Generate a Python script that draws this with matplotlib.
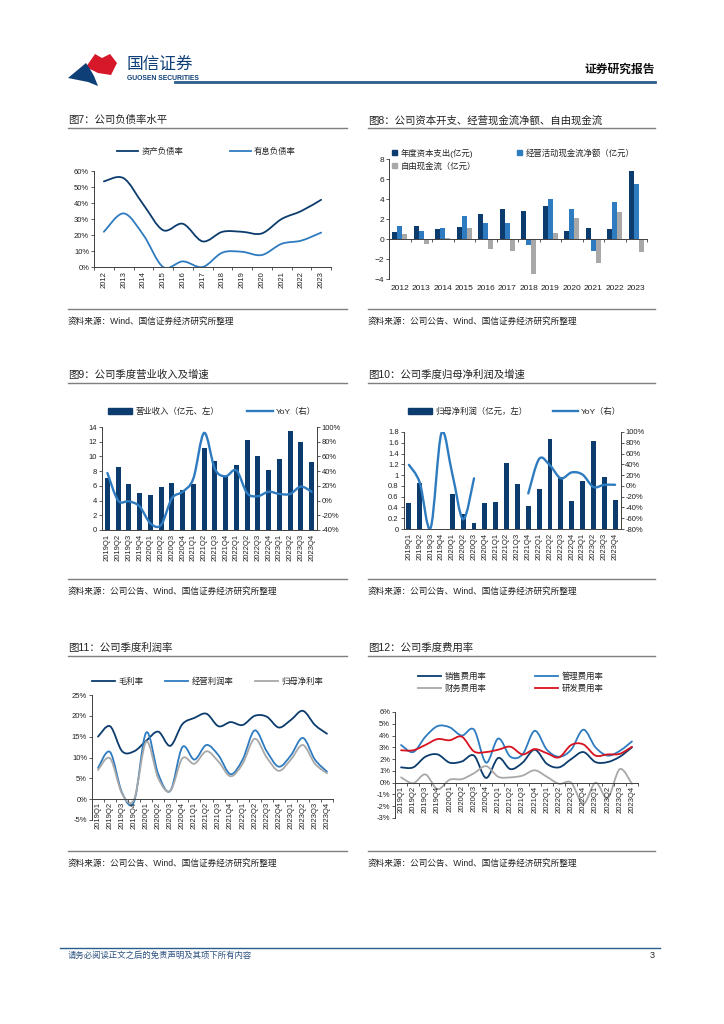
import numpy as np
import matplotlib
matplotlib.use('Agg')
import matplotlib.pyplot as plt
from matplotlib.path import Path
from matplotlib.patches import PathPatch, Polygon, Patch
from matplotlib.lines import Line2D
import matplotlib.ticker as mticker

plt.rcParams['font.family'] = ['Liberation Sans', 'Noto Sans CJK SC', 'DejaVu Sans']

# ---------------- data ----------------
years = ['2012', '2013', '2014', '2015', '2016', '2017', '2018', '2019', '2020', '2021', '2022', '2023']
asset_liab = [53.5, 55.5, 39, 23, 27, 16, 22, 22, 21, 30, 35, 42]
interest_liab = [22, 33.5, 20, 0, 3.5, 0, 9, 9.5, 7.5, 14.5, 16.5, 21.5]

capex = [0.75, 1.35, 1.0, 1.2, 2.5, 3.0, 2.85, 3.35, 0.85, 1.1, 1.0, 6.8]
op_cf = [1.3, 0.8, 1.1, 2.3, 1.6, 1.65, -0.6, 4.0, 3.05, -1.15, 3.7, 5.5]
free_cf = [0.55, -0.5, 0.1, 1.1, -0.95, -1.2, -3.45, 0.6, 2.1, -2.35, 2.75, -1.3]

quarters = ['2019Q1', '2019Q2', '2019Q3', '2019Q4', '2020Q1', '2020Q2', '2020Q3', '2020Q4',
            '2021Q1', '2021Q2', '2021Q3', '2021Q4', '2022Q1', '2022Q2', '2022Q3', '2022Q4',
            '2023Q1', '2023Q2', '2023Q3', '2023Q4']
revenue = [7.1, 8.5, 6.3, 5.0, 4.8, 5.9, 6.4, 5.5, 6.3, 11.2, 9.4, 7.3, 8.9, 12.2, 10.0, 8.2, 9.7, 13.4, 11.9, 9.2]
revenue_yoy = [37.5, 0, -1, -8, -31, -33, 3, 12, 30, 92, 43, 33, 41, 10, 6, 12, 9, 9, 19, 12]

net_profit = [0.48, 0.85, np.nan, np.nan, 0.65, 0.27, 0.11, 0.48, 0.50, 1.22, 0.84, 0.42,
              0.74, 1.67, 0.97, 0.52, 0.90, 1.63, 0.97, 0.54]
net_profit_yoy = [39, 6, -78, 98, 22, -62, 14, np.nan, np.nan, np.nan, np.nan, -14,
                  50, 38, 14, 25, 21, -2, 2, 2]

gross_margin = [15.0, 17.5, 11.5, 11.5, 14.0, 16.2, 12.8, 18.0, 19.5, 20.5, 17.5, 18.5,
                17.8, 20.0, 19.8, 17.2, 19.0, 21.2, 17.8, 15.7]
op_margin = [7.5, 11.3, 1.5, -0.5, 16.0, 6.0, 2.0, 12.5, 9.5, 13.0, 10.5, 6.0,
             9.5, 16.5, 11.5, 7.8, 10.5, 14.7, 9.5, 6.6]
net_margin = [7.0, 9.8, 1.3, 0.0, 13.8, 5.0, 2.0, 9.8, 8.5, 11.5, 9.0, 5.5,
              8.5, 14.5, 10.0, 6.8, 9.5, 13.0, 8.5, 6.2]

sell_rate = [1.3, 1.3, 2.2, 2.4, 1.7, 1.8, 2.3, 0.4, 2.1, 1.15, 1.7, 2.8,
             1.6, 1.3, 2.0, 2.6, 1.75, 1.75, 2.2, 3.0]
admin_rate = [3.2, 2.6, 3.9, 4.8, 4.7, 4.0, 4.5, 1.7, 3.75, 2.2, 2.4, 4.4,
              2.8, 2.2, 2.8, 4.5, 3.0, 2.3, 2.7, 3.5]
fin_rate = [0.45, -0.05, 0.7, -0.55, 0.25, 0.3, 0.8, 1.4, 0.5, 0.45, 0.6, 1.05,
            0.5, -0.1, 0.0, -1.8, 0.0, -1.3, 1.15, -0.1]
rd_rate = [2.75, 2.75, 3.2, 3.7, 3.6, 3.9, 2.65, 2.6, 2.8, 3.05, 2.4, 2.85,
           2.5, 2.15, 3.2, 3.25, 2.3, 2.4, 2.45, 3.05]

# ---------------- styles ----------------
NAVY = '#0B3C6D'
BLUE = '#2E7BC0'
GRAY = '#A8A8A8'
RED = '#D8121F'
AX = '#404040'
TXT = '#222222'

W, H = 724, 1024
fig = plt.figure(figsize=(7.24, 10.24), dpi=100)


def fx(x):
    return x / W


def fy(y):
    return 1 - y / H


def add_axes(x0, y0, x1, y1):
    return fig.add_axes([fx(x0), fy(y1), (x1 - x0) / W, (y1 - y0) / H])


def hline(x0, x1, y, color='#808080', lw=1.0):
    fig.add_artist(Line2D([fx(x0), fx(x1)], [fy(y), fy(y)], color=color, lw=lw,
                          transform=fig.transFigure))


def smooth_path(xs, ys):
    n = len(xs)
    verts = [(xs[0], ys[0])]
    codes = [Path.MOVETO]
    for i in range(n - 1):
        p0 = (xs[i - 1], ys[i - 1]) if i > 0 else (xs[i], ys[i])
        p1 = (xs[i], ys[i])
        p2 = (xs[i + 1], ys[i + 1])
        p3 = (xs[i + 2], ys[i + 2]) if i + 2 < n else p2
        c1 = (p1[0] + (p2[0] - p0[0]) / 6, p1[1] + (p2[1] - p0[1]) / 6)
        c2 = (p2[0] - (p3[0] - p1[0]) / 6, p2[1] - (p3[1] - p1[1]) / 6)
        verts += [c1, c2, p2]
        codes += [Path.CURVE4] * 3
    return Path(verts, codes)


def smooth_line(ax, x, y, color, lw=1.2):
    x = np.asarray(x, float)
    y = np.asarray(y, float)
    ok = ~np.isnan(y)
    seg = []
    segs = []
    for i in range(len(y)):
        if ok[i]:
            seg.append(i)
        else:
            if seg:
                segs.append(seg)
            seg = []
    if seg:
        segs.append(seg)
    for s in segs:
        if len(s) < 2:
            continue
        p = smooth_path(x[s], y[s])
        ax.add_patch(PathPatch(p, fill=False, edgecolor=color, lw=lw,
                               capstyle='round', joinstyle='round'))
    return Line2D([], [], color=color, lw=lw)


def legend_item(handle, label, x, y, hl, hh=0.7, fs=6, htp=0.4):
    fig.legend([handle], [label], loc='center left', bbox_to_anchor=(fx(x), fy(y)),
               bbox_transform=fig.transFigure, frameon=False, fontsize=fs,
               handlelength=hl, handleheight=hh, handletextpad=htp,
               borderpad=0, borderaxespad=0, labelcolor=TXT)


def style_ax(ax, right=False):
    for s in ['top', 'right']:
        ax.spines[s].set_visible(False)
    for s in ['left', 'bottom']:
        ax.spines[s].set_color(AX)
        ax.spines[s].set_linewidth(0.7)
    ax.tick_params(labelsize=5.5, length=2, width=0.6, color=AX, labelcolor=TXT, pad=1.5)
    ax.patch.set_alpha(0)


pct = mticker.FuncFormatter(lambda v, p: f'{v:.0f}%')


def title(x, y, text, x1):
    fig.text(fx(x), fy(y), text, fontsize=7.5, color=TXT, va='center', ha='left')
    hline(x, x1, y + 8, '#7F7F7F', 1.0)


def source(x, y, text, x1):
    hline(x, x1, y - 12, '#7F7F7F', 1.0)
    fig.text(fx(x), fy(y), text, fontsize=6.2, color=TXT, va='center', ha='left')


# ---------------- header ----------------
def px_poly(pts, color):
    fig.add_artist(Polygon([(fx(a), fy(b)) for a, b in pts], closed=True, facecolor=color,
                           edgecolor='none', transform=fig.transFigure))


px_poly([(86, 67), (95, 54), (102, 58), (110, 54), (117, 63), (111, 75), (98, 73)], '#D7182A')
px_poly([(68, 78), (86, 63), (90, 69), (94, 76), (98, 86), (88, 82), (78, 80)], '#0E3F77')
fig.text(fx(127), fy(64), '国信证券', fontsize=12, color='#0E3F77', va='center', ha='left')
fig.text(fx(127), fy(78), 'GUOSEN SECURITIES', fontsize=4.9, color='#0E3F77', va='center',
         ha='left', fontweight='bold')
fig.text(fx(655), fy(70), '证券研究报告', fontsize=8.5, color='#111111', va='center', ha='right',
         fontweight='bold')
hline(175, 655, 82, '#2B5C8C', 2.0)

# ---------------- titles / sources ----------------
title(68, 120, '图7：公司负债率水平', 347)
title(368, 120, '图8：公司资本开支、经营现金流净额、自由现金流', 655)
title(68, 375, '图9：公司季度营业收入及增速', 347)
title(368, 375, '图10：公司季度归母净利润及增速', 655)
title(68, 648, '图11：公司季度利润率', 347)
title(368, 648, '图12：公司季度费用率', 655)

source(68, 321, '资料来源：Wind、国信证券经济研究所整理', 347)
source(368, 321, '资料来源：公司公告、Wind、国信证券经济研究所整理', 655)
source(68, 591, '资料来源：公司公告、Wind、国信证券经济研究所整理', 347)
source(368, 591, '资料来源：公司公告、Wind、国信证券经济研究所整理', 655)
source(68, 863, '资料来源：公司公告、Wind、国信证券经济研究所整理', 347)
source(368, 863, '资料来源：公司公告、Wind、国信证券经济研究所整理', 655)

# footer
hline(60, 660, 948, '#2B5C8C', 1.0)
fig.text(fx(68), fy(956), '请务必阅读正文之后的免责声明及其项下所有内容', fontsize=6, color='#2B4F7E',
         va='center', ha='left')
fig.text(fx(655), fy(956), '3', fontsize=6.5, color=TXT, va='center', ha='right')

# ---------------- Fig 7 ----------------
ax7 = add_axes(94, 171, 331, 267)
style_ax(ax7)
xy = np.arange(len(years))
h1 = smooth_line(ax7, xy, asset_liab, NAVY, 1.3)
h2 = smooth_line(ax7, xy, interest_liab, BLUE, 1.3)
ax7.set_xlim(-0.5, len(years) - 0.5)
ax7.set_ylim(0, 60)
ax7.set_yticks(np.arange(0, 61, 10))
ax7.yaxis.set_major_formatter(pct)
ax7.set_xticks(xy, years, rotation=90)
ax7.tick_params(axis='x', length=0, pad=3)
ax7.set_xticks(np.arange(-0.5, len(years), 1), minor=True)
ax7.tick_params(axis='x', which='minor', length=2, width=0.6, color=AX)
legend_item(h1, '资产负债率', 117, 152, 2.5)
legend_item(h2, '有息负债率', 230, 152, 2.5)

# ---------------- Fig 8 ----------------
ax8 = add_axes(389, 159, 647, 279)
style_ax(ax8)
w = 0.23
ax8.bar(xy - w, capex, w, color=NAVY)
ax8.bar(xy, op_cf, w, color=BLUE)
ax8.bar(xy + w, free_cf, w, color=GRAY)
ax8.set_xlim(-0.5, len(years) - 0.5)
ax8.set_ylim(-4, 8)
ax8.set_yticks(np.arange(-4, 9, 2))
ax8.spines['bottom'].set_position(('data', 0))
ax8.set_xticks(xy, years)
ax8.tick_params(axis='x', length=0, pad=33, labelsize=6)
ax8.tick_params(axis='y', labelsize=6)
ax8.set_xticks(np.arange(-0.5, len(years), 1), minor=True)
ax8.tick_params(axis='x', which='minor', length=2, width=0.6, color=AX)
sq = dict(hl=0.65, hh=0.65, htp=0.35)
legend_item(Patch(color=NAVY), '年度资本支出(亿元)', 392, 153, **sq)
legend_item(Patch(color=BLUE), '经营活动现金流净额（亿元）', 517, 153, **sq)
legend_item(Patch(color=GRAY), '自由现金流（亿元）', 392, 166, **sq)

# ---------------- Fig 9 ----------------
xq = np.arange(len(quarters))
ax9 = add_axes(102, 427, 317, 530)
style_ax(ax9)
ax9.bar(xq, revenue, 0.45, color=NAVY)
ax9.set_xlim(-0.5, len(quarters) - 0.5)
ax9.set_ylim(0, 14)
ax9.set_yticks(np.arange(0, 15, 2))
ax9.set_xticks(xq, quarters, rotation=90)
ax9.tick_params(axis='x', length=0, pad=3)
ax9r = ax9.twinx()
style_ax(ax9r)
ax9r.spines['right'].set_visible(True)
ax9r.spines['right'].set_color(AX)
ax9r.spines['right'].set_linewidth(0.7)
ax9r.spines['left'].set_visible(False)
ax9r.spines['bottom'].set_visible(False)
hy = smooth_line(ax9r, xq, revenue_yoy, BLUE, 1.7)
ax9r.set_ylim(-40, 100)
ax9r.set_yticks(np.arange(-40, 101, 20))
ax9r.yaxis.set_major_formatter(pct)
legend_item(Patch(color=NAVY), '营业收入（亿元、左）', 108, 412, 2.9, hh=0.75)
legend_item(hy, 'YoY（右）', 247, 412, 3.1)

# ---------------- Fig 10 ----------------
ax10 = add_axes(403.5, 432, 620.5, 529)
style_ax(ax10)
ax10.bar(xq, net_profit, 0.45, color=NAVY)
ax10.set_xlim(-0.5, len(quarters) - 0.5)
ax10.set_ylim(0, 1.8)
ax10.set_yticks(np.round(np.arange(0, 1.81, 0.2), 1))
ax10.yaxis.set_major_formatter(mticker.FuncFormatter(lambda v, p: f'{v:g}'))
ax10.set_xticks(xq, quarters, rotation=90)
ax10.tick_params(axis='x', length=0, pad=3)
ax10r = ax10.twinx()
style_ax(ax10r)
ax10r.spines['right'].set_visible(True)
ax10r.spines['right'].set_color(AX)
ax10r.spines['right'].set_linewidth(0.7)
ax10r.spines['left'].set_visible(False)
ax10r.spines['bottom'].set_visible(False)
hy2 = smooth_line(ax10r, xq, net_profit_yoy, BLUE, 1.7)
ax10r.set_ylim(-80, 100)
ax10r.set_yticks(np.arange(-80, 101, 20))
ax10r.yaxis.set_major_formatter(pct)
legend_item(Patch(color=NAVY), '归母净利润（亿元，左）', 408, 412, 2.9, hh=0.75)
legend_item(hy2, 'YoY（右）', 553, 412, 3.0)

# ---------------- Fig 11 ----------------
ax11 = add_axes(92, 695, 333, 820)
style_ax(ax11)
g1 = smooth_line(ax11, xq, gross_margin, NAVY, 1.3)
g2 = smooth_line(ax11, xq, op_margin, BLUE, 1.3)
g3 = smooth_line(ax11, xq, net_margin, GRAY, 1.3)
ax11.set_xlim(-0.5, len(quarters) - 0.5)
ax11.set_ylim(-5, 25)
ax11.set_yticks(np.arange(-5, 26, 5))
ax11.yaxis.set_major_formatter(pct)
ax11.spines['bottom'].set_position(('data', 0))
ax11.set_xticks(xq, quarters, rotation=90)
ax11.tick_params(axis='x', length=0, pad=2)
ax11.set_xticks(np.arange(-0.5, len(quarters), 1), minor=True)
ax11.tick_params(axis='x', which='minor', length=2, width=0.6, color=AX)
legend_item(g1, '毛利率', 92, 682, 2.8)
legend_item(g2, '经营利润率', 165, 682, 2.8)
legend_item(g3, '归母净利率', 255, 682, 2.8)

# ---------------- Fig 12 ----------------
ax12 = add_axes(395, 712, 638, 818)
style_ax(ax12)
e1 = smooth_line(ax12, xq, sell_rate, NAVY, 1.3)
e2 = smooth_line(ax12, xq, admin_rate, BLUE, 1.3)
e3 = smooth_line(ax12, xq, fin_rate, GRAY, 1.3)
e4 = smooth_line(ax12, xq, rd_rate, RED, 1.3)
ax12.set_xlim(-0.5, len(quarters) - 0.5)
ax12.set_ylim(-3, 6)
ax12.set_yticks(np.arange(-3, 7, 1))
ax12.yaxis.set_major_formatter(pct)
ax12.spines['bottom'].set_position(('data', 0))
ax12.set_xticks(xq, quarters, rotation=90)
ax12.tick_params(axis='x', length=0, pad=2)
ax12.set_xticks(np.arange(-0.5, len(quarters), 1), minor=True)
ax12.tick_params(axis='x', which='minor', length=2, width=0.6, color=AX)
legend_item(e1, '销售费用率', 418, 677, 2.8)
legend_item(e2, '管理费用率', 535, 677, 2.8)
legend_item(e3, '财务费用率', 418, 689, 2.8)
legend_item(e4, '研发费用率', 535, 689, 2.8)

fig.savefig('out.png', dpi=100)
